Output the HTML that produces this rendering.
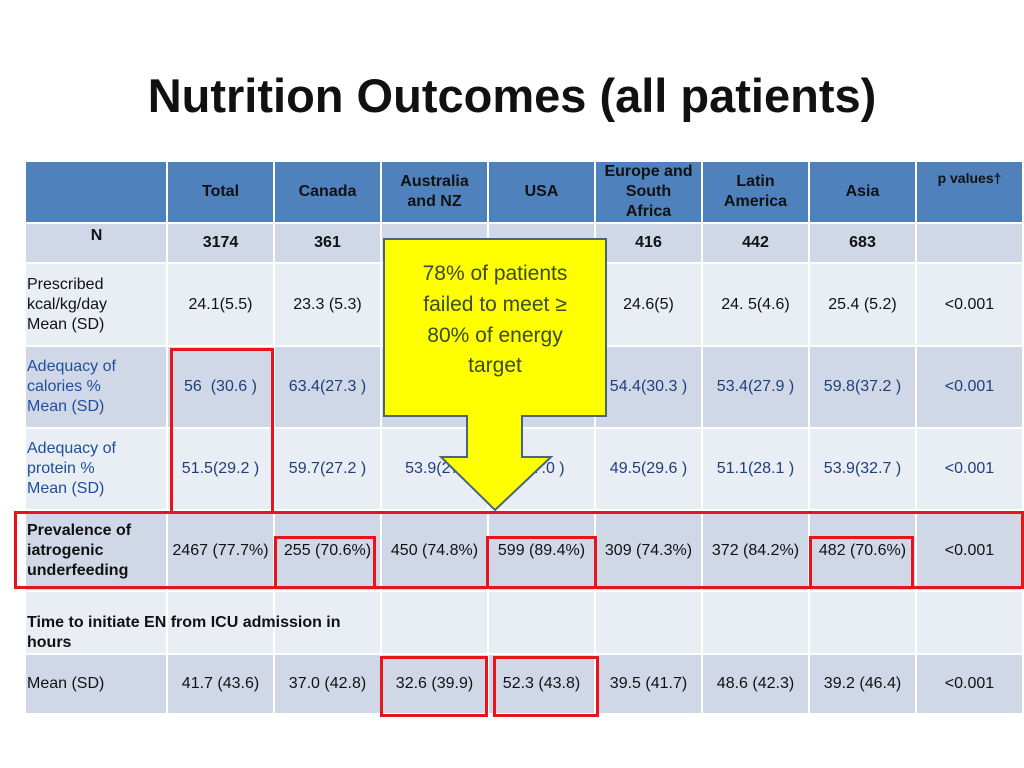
<!DOCTYPE html>
<html><head><meta charset="utf-8"><style>
body{margin:0;width:1024px;height:768px;background:#fff;position:relative;overflow:hidden;font-family:"Liberation Sans",Arial,sans-serif}
.c{position:absolute;display:flex;align-items:center;justify-content:center;text-align:center;font-size:16px;color:#111;box-sizing:border-box;line-height:20px}
.h{background:#4f81bd;font-weight:bold;color:#111}
.d{background:#d0d8e8}.l{background:#e9edf4}
.lab{justify-content:flex-start;text-align:left;padding-left:1px}
.blue{color:#1f4e9a}
.r{position:absolute;border:3px solid #e8141c;box-sizing:border-box}
</style></head><body>
<div style="position:absolute;left:0;top:68px;width:1024px;text-align:center;font-size:47px;font-weight:bold;color:#111">Nutrition Outcomes (all patients)</div>
<div id="t"></div>
<svg style="position:absolute;left:0;top:0" width="1024" height="768">
<path d="M384 239 H606 V416 H522 V457 H551 L495 510 L441 457 H467 V416 H384 Z" fill="#ffff00" stroke="#4a6480" stroke-width="2"/>
<text x="495" y="280" text-anchor="middle" font-family="Liberation Sans, sans-serif" font-size="21" fill="#3a4a2a">78% of patients</text>
<text x="495" y="311" text-anchor="middle" font-family="Liberation Sans, sans-serif" font-size="21" fill="#3a4a2a">failed to meet ≥</text>
<text x="495" y="342" text-anchor="middle" font-family="Liberation Sans, sans-serif" font-size="21" fill="#3a4a2a">80% of energy</text>
<text x="495" y="372" text-anchor="middle" font-family="Liberation Sans, sans-serif" font-size="21" fill="#3a4a2a">target</text>
</svg>
<div class="r" style="left:170px;top:348px;width:104px;height:166px"></div>
<div class="r" style="left:14px;top:511px;width:1010px;height:78px"></div>
<div class="r" style="left:274px;top:536px;width:102px;height:53px"></div>
<div class="r" style="left:486px;top:536px;width:111px;height:53px"></div>
<div class="r" style="left:809px;top:536px;width:105px;height:53px"></div>
<div class="r" style="left:380px;top:656px;width:108px;height:61px"></div>
<div class="r" style="left:493px;top:656px;width:106px;height:61px"></div>
<script>
const xs=[26,168,275,382,489,596,703,810,917,1024];
const ys=[162,224,264,347,429,511,592,655,715];
const header=["","Total","Canada","Australia<br>and NZ","USA","Europe and<br>South<br>Africa","Latin<br>America","Asia","p values†"];
const rows=[
["N","3174","361","","","416","442","683",""],
["Prescribed<br>kcal/kg/day<br>Mean (SD)","24.1(5.5)","23.3 (5.3)","","","24.6(5)","24. 5(4.6)","25.4 (5.2)","&lt;0.001"],
["Adequacy of<br>calories %<br>Mean (SD)","56&nbsp; (30.6 )","63.4(27.3 )","","","54.4(30.3 )","53.4(27.9 )","59.8(37.2 )","&lt;0.001"],
["Adequacy of<br>protein %<br>Mean (SD)","51.5(29.2 )","59.7(27.2 )","53.9(27.","(27.0 )","49.5(29.6 )","51.1(28.1 )","53.9(32.7 )","&lt;0.001"],
["Prevalence of<br>iatrogenic<br>underfeeding","2467 (77.7%)","255 (70.6%)","450 (74.8%)","599 (89.4%)","309 (74.3%)","372 (84.2%)","482 (70.6%)","&lt;0.001"],
["","","","","","","","",""],
["Mean (SD)","41.7 (43.6)","37.0 (42.8)","32.6 (39.9)","52.3 (43.8)","39.5 (41.7)","48.6 (42.3)","39.2 (46.4)","&lt;0.001"]];
const t=document.getElementById('t');
function cell(x0,x1,y0,y1,html,cls,name){
 const d=document.createElement('div');
 d.className='c '+cls;
 d.style.left=x0+'px';d.style.top=y0+'px';d.style.width=(x1-x0-2)+'px';d.style.height=(y1-y0-2)+'px';
 d.innerHTML=html;
 
 
 t.appendChild(d);return d;
}
header.forEach((h,i)=>{const d=cell(xs[i],xs[i+1],ys[0],ys[1],h,'h','header-cell');if(i==8){d.style.alignItems='flex-start';d.style.paddingTop='6px';d.style.fontSize='14px';}});
rows.forEach((r,ri)=>{
 const cls=ri%2==0?'d':'l';
 r.forEach((v,ci)=>{
  let c=cls;if(ci==0)c+=' lab';
  if(ri==0||(ri==4&&ci==0))c+='';
  const d=cell(xs[ci],xs[ci+1],ys[ri+1],ys[ri+2],v,c,ci==0?'row-label':'data-cell');
  if(ri==0)d.style.fontWeight='bold';
  if(ri==0&&ci==0){d.style.justifyContent='center';d.style.alignItems='flex-start';d.style.paddingTop='2px';}
  if(ri==4&&ci==0)d.style.fontWeight='bold';
  if((ri==2||ri==3)&&ci<3)d.classList.add('blue');
  if(ri==2||ri==3){if(ci==0)d.style.color='#1f4e9a';else d.style.color='#1f3f7a';}
 });
});
const tm=document.createElement('div');
tm.className='c lab';
tm.style.cssText='left:26px;top:613px;width:360px;height:42px;font-weight:bold;align-items:flex-start;';
tm.innerHTML='Time to initiate EN from ICU admission in<br>hours';


t.appendChild(tm);
</script>
</body></html>
